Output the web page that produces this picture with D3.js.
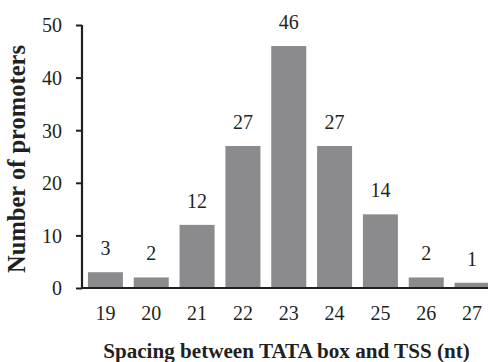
<!DOCTYPE html>
<html><head><meta charset="utf-8">
<script src="https://cdn.jsdelivr.net/npm/d3@7"></script>
<style>body{margin:0;background:#fff}svg{display:block}svg text{font-family:"Liberation Serif","Times New Roman",serif !important;fill:#231f20}</style>
</head><body>
<svg id="c" width="488" height="362"></svg>
<script>
const categories = ["19","20","21","22","23","24","25","26","27"];
const values = [3,2,12,27,46,27,14,2,1];
const yTicks = [0,10,20,30,40,50];

const svg = d3.select("#c");
const x = d3.scaleBand().domain(categories).range([82.5,495]).paddingInner(0.236).paddingOuter(0.118);
const y = d3.scaleLinear().domain([0,50]).range([288,25]);

svg.selectAll("rect.bar").data(values).join("rect")
  .attr("x",(d,i)=>x(categories[i])).attr("width",x.bandwidth())
  .attr("y",d=>y(d)).attr("height",d=>y(0)-y(d)).attr("fill","#8b8b8e");

svg.selectAll("text.val").data(values).join("text")
  .attr("x",(d,i)=>x(categories[i])+x.bandwidth()/2).attr("y",d=>y(d)-17)
  .attr("text-anchor","middle").style("font-size","20px").text(d=>d);

const yAxis = svg.append("g").attr("transform","translate(82,0)")
  .call(d3.axisLeft(y).tickValues(yTicks).tickSize(6).tickPadding(14));
yAxis.select(".domain").attr("stroke","#231f20").attr("stroke-width",2.2).attr("d","M0,25V289");
yAxis.selectAll(".tick line").attr("stroke","#231f20").attr("stroke-width",2);
yAxis.selectAll(".tick text").style("font-size","20px").attr("dy","0.34em");

const xAxis = svg.append("g").attr("transform","translate(0,288)")
  .call(d3.axisBottom(x).tickSize(0).tickPadding(18));
xAxis.select(".domain").attr("stroke","#231f20").attr("stroke-width",2.2).attr("d","M81,0H488");
xAxis.selectAll(".tick text").style("font-size","20px");

function fit(sel, target){
  sel.style("font-size","20px");
  const w = sel.node().getComputedTextLength();
  sel.style("font-size",(20*target/w)+"px");
}
const xt = svg.append("text").attr("x",286.5).attr("y",358).attr("text-anchor","middle")
  .style("font-weight","bold").text("Spacing between TATA box and TSS (nt)");
fit(xt,367);
const yt = svg.append("text").attr("transform","translate(25,159) rotate(-90)").attr("text-anchor","middle")
  .style("font-weight","bold").text("Number of promoters");
fit(yt,228);
</script>
</body></html>
